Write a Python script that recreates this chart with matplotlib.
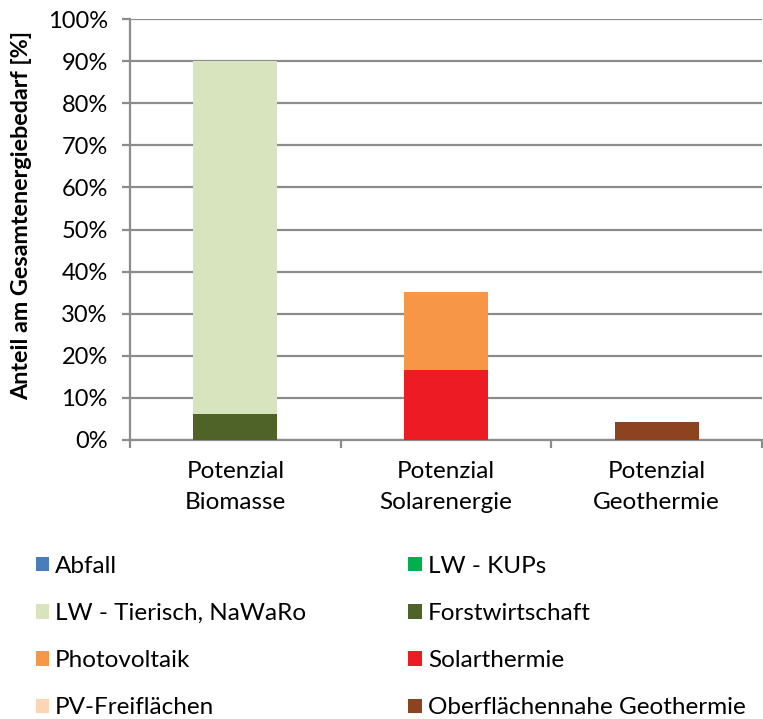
import matplotlib
matplotlib.use("Agg")
import matplotlib.pyplot as plt
from matplotlib.patches import Patch
import numpy as np

plt.rcParams['font.family'] = ['Lato', 'DejaVu Sans']

categories = ["Potenzial\nBiomasse", "Potenzial\nSolarenergie", "Potenzial\nGeothermie"]
series_names = ["Abfall", "LW - KUPs", "Forstwirtschaft", "LW - Tierisch, NaWaRo",
                "Solarthermie", "Photovoltaik", "PV-Freiflächen", "Oberflächennahe Geothermie"]
abfall = [0.0, 0.0, 0.0]
lw_kups = [0.0, 0.0, 0.0]
forst = [6.2, 0.0, 0.0]
lw_tierisch = [83.8, 0.0, 0.0]
solarthermie = [0.0, 16.6, 0.0]
photovoltaik = [0.0, 18.6, 0.0]
pv_frei = [0.0, 0.0, 0.0]
geothermie = [0.0, 0.0, 4.3]
yticks = [0, 10, 20, 30, 40, 50, 60, 70, 80, 90, 100]

colors = {
    "Abfall": "#4A7EBB",
    "LW - KUPs": "#00B050",
    "LW - Tierisch, NaWaRo": "#D7E4BD",
    "Forstwirtschaft": "#4F6228",
    "Photovoltaik": "#F79646",
    "Solarthermie": "#ED1C24",
    "PV-Freiflächen": "#FCD5B5",
    "Oberflächennahe Geothermie": "#8E4320",
}
values = [abfall, lw_kups, forst, lw_tierisch, solarthermie, photovoltaik, pv_frei, geothermie]

fig = plt.figure(figsize=(7.63, 7.19), dpi=100)
ax = fig.add_axes([130/763, 1-440/719, (762-130)/763, (440-19)/719])

x = np.arange(len(categories))
bottom = np.zeros(len(categories))
for name, vals in zip(series_names, values):
    v = np.array(vals)
    ax.bar(x, v, 0.40, bottom=bottom, color=colors[name], zorder=3, linewidth=0)
    bottom += v

ax.set_xlim(-0.5, 2.5)
ax.set_ylim(0, 100)
ax.set_yticks(yticks)
ax.set_yticklabels([f"{t}%" for t in yticks], fontsize=17)
ax.yaxis.grid(True, color="#8C8C8C", linewidth=1.6, zorder=0)
ax.set_axisbelow(True)
ax.set_xticks([-0.5, 0.5, 1.5, 2.5])
ax.set_xticklabels([])
ax.set_xticks(x, minor=True)
ax.set_xticklabels(categories, minor=True, fontsize=17.5, linespacing=1.6)
ax.tick_params(axis="x", which="minor", length=0, pad=15)
ax.tick_params(axis="x", which="major", length=6, width=1.6, color="#8C8C8C")
ax.tick_params(axis="y", length=6, width=1.6, color="#8C8C8C", pad=10)
for s in ["top", "right"]:
    ax.spines[s].set_visible(False)
for s in ["left", "bottom"]:
    ax.spines[s].set_color("#8C8C8C")
    ax.spines[s].set_linewidth(1.6)

fig.text(22/763, 1-215/719, "Anteil am Gesamtenergiebedarf [%]", rotation=90,
         fontsize=16.8, fontweight="bold", ha="center", va="center")

order = ["Abfall", "LW - Tierisch, NaWaRo", "Photovoltaik", "PV-Freiflächen",
         "LW - KUPs", "Forstwirtschaft", "Solarthermie", "Oberflächennahe Geothermie"]
handles = [Patch(facecolor=colors[n], edgecolor="none", label=n) for n in order]
fig.legend(handles=handles, ncol=2, loc="upper left", bbox_to_anchor=(26/763, 1-546/719),
           frameon=False, fontsize=17.5, handlelength=0.55, handleheight=0.55,
           handletextpad=0.25, columnspacing=4.2, labelspacing=1.08, borderaxespad=0)

fig.savefig("out.png", dpi=100)
